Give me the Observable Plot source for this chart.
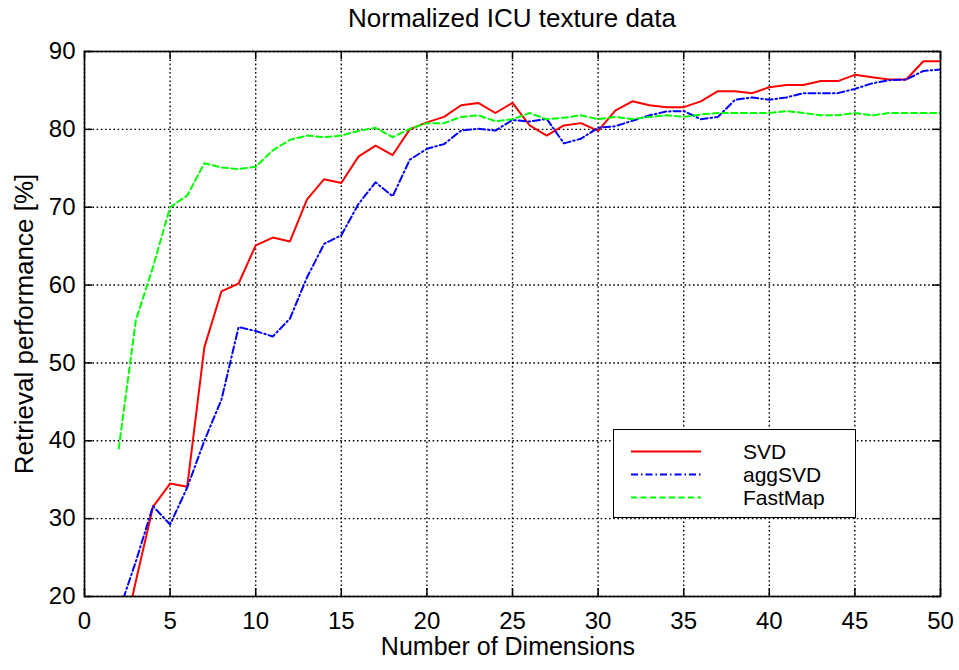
<!DOCTYPE html>
<html>
<head>
<meta charset="utf-8">
<script src="https://cdn.jsdelivr.net/npm/d3@7"></script>
<script src="https://cdn.jsdelivr.net/npm/@observablehq/plot@0.6"></script>
<style>
  html, body { margin: 0; padding: 0; background: #fff; }
  #wrap { position: relative; width: 959px; height: 670px; font-family: "Liberation Sans", Arial, Helvetica, sans-serif; color: #000; }
  #chart { position: absolute; left: 0; top: 0; }
  .ovl { position: absolute; white-space: nowrap; }
  #title { left: 84px; width: 856px; top: 3px; text-align: center; font-size: 26px; line-height: 30px; }
  #xlabel { left: 80px; width: 856px; top: 632px; text-align: center; font-size: 25px; line-height: 28px; }
  #ylabel { left: 24px; top: 324px; font-size: 26px; line-height: 30px; transform: translate(-50%, -50%) rotate(-90deg); }
  #legend { left: 613px; top: 429px; width: 241px; height: 87px; border: 1.5px solid #000; background: #fff; }
  .lrow { position: absolute; left: 0; height: 23px; width: 241px; }
  .lrow svg { position: absolute; left: 17px; top: 0; }
  .lrow span { position: absolute; left: 129px; top: 0; font-size: 21px; line-height: 23px; }
</style>
</head>
<body>
<div id="wrap">
  <div id="chart"></div>
  <div id="title" class="ovl"></div>
  <div id="xlabel" class="ovl"></div>
  <div id="ylabel" class="ovl"></div>
  <div id="legend" class="ovl"></div>
</div>
<script>
// ---- data ----
const titleText = "Normalized ICU texture data";
const xLabelText = "Number of Dimensions";
const yLabelText = "Retrieval performance [%]";

const dims = [2,3,4,5,6,7,8,9,10,11,12,13,14,15,16,17,18,19,20,21,22,23,24,25,26,27,28,29,30,31,32,33,34,35,36,37,38,39,40,41,42,43,44,45,46,47,48,49,50];

const svd = [12,22,31.5,34.5,34.1,52.0,59.2,60.2,65.1,66.1,65.6,71.0,73.6,73.1,76.5,77.9,76.7,80.0,80.9,81.6,83.1,83.4,82.1,83.4,80.5,79.2,80.5,80.8,79.8,82.4,83.6,83.1,82.85,82.85,83.6,84.9,84.9,84.65,85.4,85.7,85.7,86.2,86.2,87.0,86.7,86.4,86.4,88.75,88.75];

const aggSvd = [18,24.5,31.6,29.25,34.0,40.0,45.3,54.6,54.1,53.4,55.7,61.0,65.3,66.4,70.4,73.2,71.4,76.1,77.5,78.1,79.85,80.07,79.85,81.2,81.0,81.35,78.2,78.8,80.2,80.4,81.1,81.8,82.3,82.35,81.3,81.6,83.8,84.1,83.8,84.1,84.65,84.65,84.65,85.2,85.9,86.3,86.4,87.5,87.7];

const fastMap = [39.0,55.5,62.3,70.0,71.5,75.65,75.1,74.9,75.2,77.3,78.65,79.2,79.0,79.2,79.8,80.2,79.0,80.07,80.8,80.8,81.6,81.8,81.05,81.3,82.1,81.3,81.5,81.8,81.3,81.6,81.3,81.6,81.8,81.6,81.9,82.1,82.1,82.1,82.1,82.35,82.1,81.8,81.8,82.1,81.8,82.1,82.1,82.1,82.1];

const seriesNames = ["SVD", "aggSVD", "FastMap"];
const seriesColors = ["#ff0000", "#0000ff", "#00ff00"];
const seriesDash = [null, "7,3,1.5,3", "6,3.5"];

const xTicks = [0,5,10,15,20,25,30,35,40,45,50];
const yTicks = [20,30,40,50,60,70,80,90];

// ---- layout ----
const W = 959, H = 670;
const mTop = 51, mBottom = 74, mLeft = 84, mRight = 19;
const innerW = W - mLeft - mRight, innerH = H - mTop - mBottom;
const tickLen = 8;

const seriesValues = [svd, aggSvd, fastMap];
const table = seriesNames.flatMap((name, s) => dims.map((d, i) => ({dim: d, value: seriesValues[s][i], series: name})));

const gridStyle = {stroke: "#000", strokeWidth: 1.4, strokeDasharray: "1.6,2.6"};

const lineMarks = seriesNames.map((name, s) =>
  Plot.line(table.filter(r => r.series === name), {
    x: "dim", y: "value",
    stroke: seriesColors[s], strokeWidth: 2,
    strokeDasharray: seriesDash[s] || undefined,
    clip: true
  })
);

const chart = Plot.plot({
  width: W, height: H,
  marginTop: mTop, marginBottom: mBottom, marginLeft: mLeft, marginRight: mRight,
  style: {fontFamily: '"Liberation Sans", Arial, Helvetica, sans-serif', fontSize: "24px", color: "#000", background: "#fff", overflow: "visible"},
  x: {domain: [0, 50], ticks: xTicks, tickSize: 0, tickPadding: 15, label: null, tickFormat: d => String(d)},
  y: {domain: [20, 90], ticks: yTicks, tickSize: 0, tickPadding: 9, label: null, tickFormat: d => String(d)},
  marks: [
    Plot.ruleX(xTicks, {x: d => d, ...gridStyle}),
    Plot.ruleY(yTicks, {y: d => d, ...gridStyle}),
    ...lineMarks,
    Plot.ruleX(xTicks, {x: d => d, stroke: "#000", strokeWidth: 1.5, insetTop: innerH - tickLen}),
    Plot.ruleX(xTicks, {x: d => d, stroke: "#000", strokeWidth: 1.5, insetBottom: innerH - tickLen}),
    Plot.ruleY(yTicks, {y: d => d, stroke: "#000", strokeWidth: 1.5, insetRight: innerW - tickLen}),
    Plot.ruleY(yTicks, {y: d => d, stroke: "#000", strokeWidth: 1.5, insetLeft: innerW - tickLen}),
    Plot.frame({stroke: "#000", strokeWidth: 1.6})
  ]
});
document.getElementById("chart").appendChild(chart);

document.getElementById("title").textContent = titleText;
document.getElementById("xlabel").textContent = xLabelText;
document.getElementById("ylabel").textContent = yLabelText;

// legend
const legend = document.getElementById("legend");
const rowTops = [10, 33, 56];
seriesNames.forEach((name, s) => {
  const row = document.createElement("div");
  row.className = "lrow";
  row.style.top = rowTops[s] + "px";
  const svgNS = "http://www.w3.org/2000/svg";
  const svg = document.createElementNS(svgNS, "svg");
  svg.setAttribute("width", "72"); svg.setAttribute("height", "23");
  const ln = document.createElementNS(svgNS, "line");
  ln.setAttribute("x1", "0"); ln.setAttribute("x2", "70");
  ln.setAttribute("y1", "11.5"); ln.setAttribute("y2", "11.5");
  ln.setAttribute("stroke", seriesColors[s]);
  ln.setAttribute("stroke-width", "2");
  if (seriesDash[s]) ln.setAttribute("stroke-dasharray", seriesDash[s]);
  svg.appendChild(ln);
  row.appendChild(svg);
  const sp = document.createElement("span");
  sp.textContent = name;
  row.appendChild(sp);
  legend.appendChild(row);
});
</script>
</body>
</html>
